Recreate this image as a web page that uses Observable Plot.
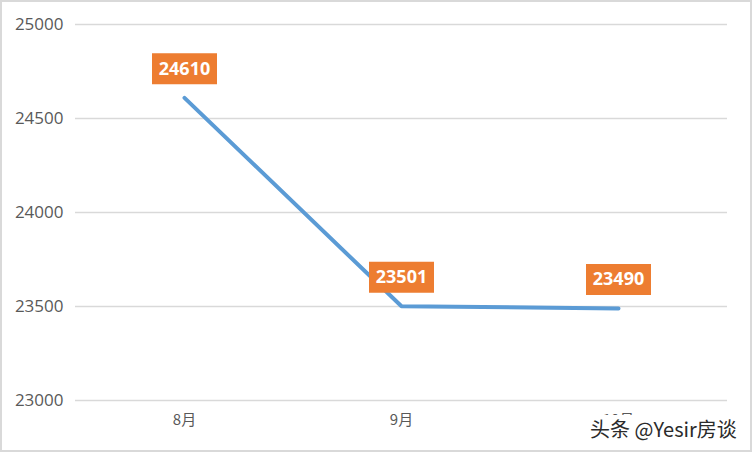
<!DOCTYPE html>
<html>
<head>
<meta charset="utf-8">
<script src="https://cdn.jsdelivr.net/npm/d3@7"></script>
<script src="https://cdn.jsdelivr.net/npm/@observablehq/plot@0.6"></script>
<style>
  html, body { margin: 0; padding: 0; background: #fff; }
  #frame { position: relative; width: 752px; height: 452px; box-sizing: border-box; border: 2px solid #d9d9d9; overflow: hidden; }
  #wm { position: absolute; left: 584px; top: 413px; font-family: "Noto Sans CJK SC", sans-serif; font-size: 20px; line-height: 27px; color: #2b2b2b; background: #fff; padding: 0 4px; text-shadow: 0 0 2px #fff; }
</style>
</head>
<body>
<div id="frame"><div id="chart"></div><div id="wm">头条 @Yesir房谈</div></div>
<script>
const months = ["8月", "9月", "10月"];
const prices = [24610, 23501, 23490];
const yTicks = [23000, 23500, 24000, 24500, 25000];

const data = months.map((m, i) => ({month: m, price: prices[i]}));

const boxSymbol = {
  draw(ctx) { ctx.rect(-32.5, -15.5, 65, 31); }
};

const chart = Plot.plot({
  width: 748,
  height: 448,
  marginLeft: 73,
  marginRight: 23,
  marginTop: 22,
  marginBottom: 50,
  style: {fontFamily: "'Noto Sans CJK SC', 'Open Sans', sans-serif", background: "transparent"},
  x: {type: "point", domain: months, padding: 0.5, label: null},
  y: {domain: [23000, 25000], label: null},
  marks: [
    Plot.gridY(yTicks, {stroke: "#d9d9d9", strokeOpacity: 1, strokeWidth: 1.5}),
    Plot.axisY(yTicks, {tickSize: 0, tickPadding: 12, fontSize: 17, fill: "#595959", tickFormat: d => String(d), fontFamily: "'Open Sans', sans-serif", label: null}),
    Plot.axisX({tickSize: 0, tickPadding: 14, fontSize: 15, fill: "#595959", label: null}),
    Plot.line(data, {x: "month", y: "price", stroke: "#5B9BD5", strokeWidth: 4, strokeLinecap: "round", strokeLinejoin: "miter"}),
    Plot.dot(data, {x: "month", y: "price", symbol: boxSymbol, fill: "#ED7D31", stroke: null, dy: -29, r: 10}),
    Plot.text(data, {x: "month", y: "price", text: d => String(d.price), dy: -29, fill: "white", fontWeight: "bold", fontSize: 18, fontFamily: "'Open Sans', sans-serif"})
  ]
});
document.getElementById("chart").appendChild(chart);
</script>
</body>
</html>
